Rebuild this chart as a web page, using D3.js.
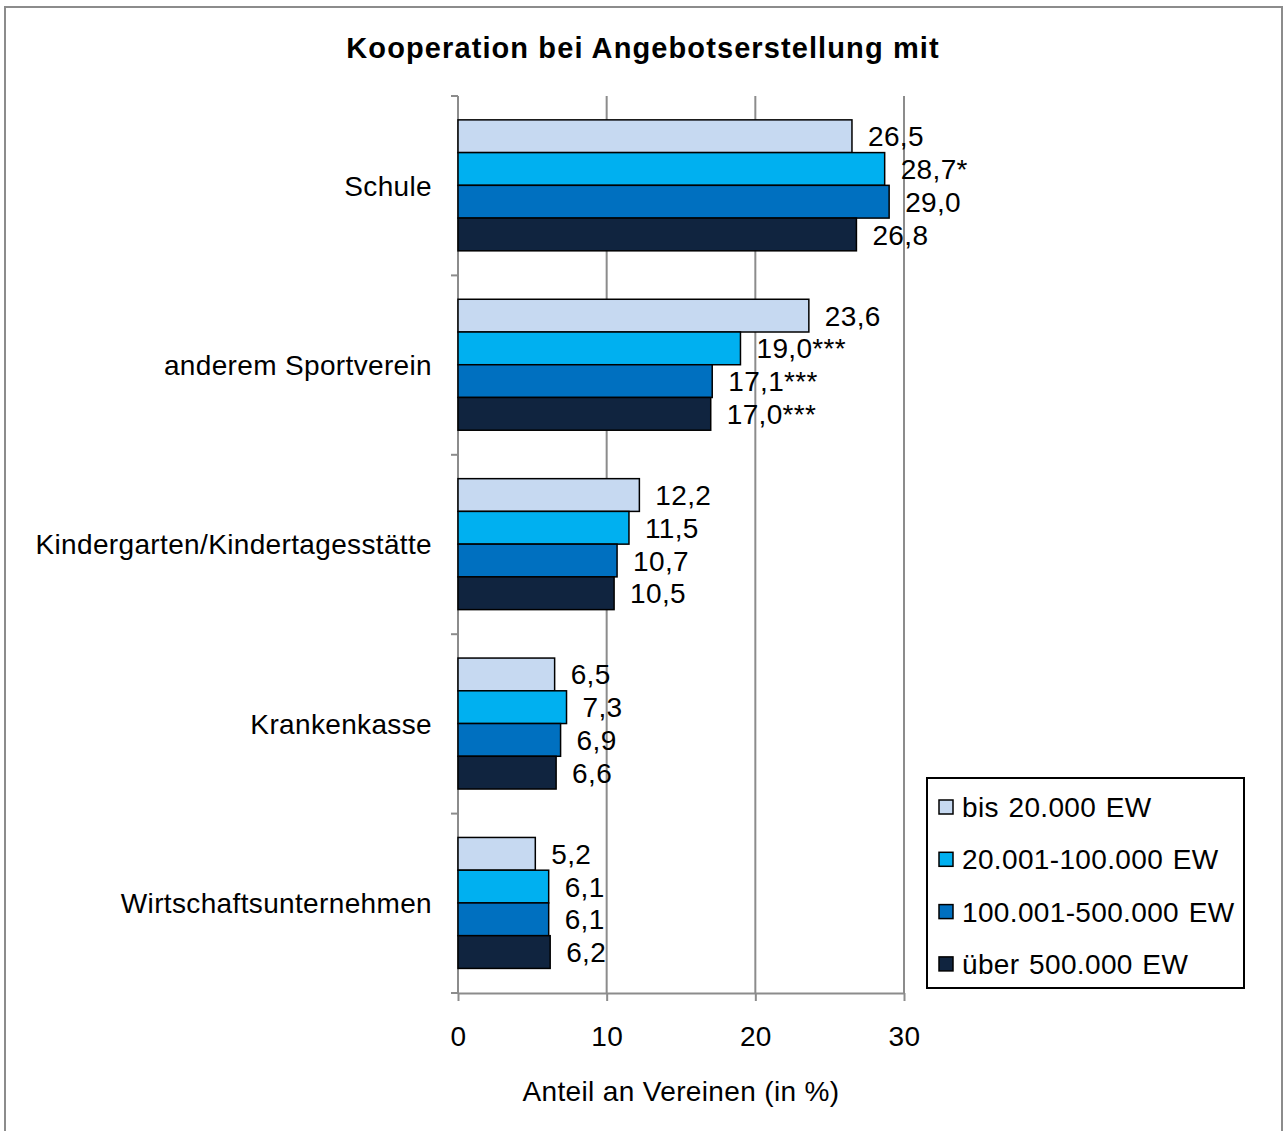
<!DOCTYPE html>
<html>
<head>
<meta charset="utf-8">
<script src="https://cdn.jsdelivr.net/npm/d3@7/dist/d3.min.js"></script>
<style>
  body { margin: 0; background: #fff; }
  svg text { font-family: "Liberation Sans", Arial, sans-serif; fill: #000; letter-spacing: 0.35px; }
</style>
</head>
<body>
<div class="chart"></div>
<script>
const categories = ["Schule", "anderem Sportverein", "Kindergarten/Kindertagesstätte", "Krankenkasse", "Wirtschaftsunternehmen"];
const seriesNames = ["bis 20.000 EW", "20.001-100.000 EW", "100.001-500.000 EW", "über 500.000 EW"];
const seriesColors = ["#C6D9F1", "#00B0F0", "#0070C0", "#10243F"];
const bis20k = [26.5, 23.6, 12.2, 6.5, 5.2];
const bis100k = [28.7, 19.0, 11.5, 7.3, 6.1];
const bis500k = [29.0, 17.1, 10.7, 6.9, 6.1];
const ueber500k = [26.8, 17.0, 10.5, 6.6, 6.2];
// significance markers as printed next to the values
const stars = [
  ["", "", "", "", ""],
  ["*", "***", "", "", ""],
  ["", "***", "", "", ""],
  ["", "***", "", "", ""]
];
const xTicks = [0, 10, 20, 30];

const seriesValues = [bis20k, bis100k, bis500k, ueber500k];

const W = 1284, H = 1131;
const plot = {left: 458, right: 904, top: 96, bottom: 993};
const fs = "28px";

const svg = d3.select(".chart").append("svg")
    .attr("width", W)
    .attr("height", H);

// outer frame
svg.append("rect")
    .attr("x", 5).attr("y", 7)
    .attr("width", 1277).attr("height", 1140)
    .attr("fill", "white")
    .attr("stroke", "#8c8c8c")
    .attr("stroke-width", 2);

svg.append("text")
    .attr("x", 643).attr("y", 58)
    .attr("text-anchor", "middle")
    .style("font-size", "29px")
    .style("font-weight", "bold")
    .style("letter-spacing", "1.1px")
    .text("Kooperation bei Angebotserstellung mit");

const x = d3.scaleLinear().domain([0, 30]).range([plot.left, plot.right]);
const y0 = d3.scaleBand().domain(categories).range([plot.top, plot.bottom]).padding(0);
const y1 = d3.scaleBand().domain(d3.range(4))
    .range([y0.bandwidth() * 0.133, y0.bandwidth() * 0.863]).padding(0);

// gridlines
svg.append("g")
    .selectAll("line")
    .data(xTicks.slice(1))
    .join("line")
    .attr("x1", d => x(d)).attr("x2", d => x(d))
    .attr("y1", plot.top).attr("y2", plot.bottom)
    .attr("stroke", "#8c8c8c")
    .attr("stroke-width", 2);

// x axis
const xAxis = svg.append("g")
    .attr("transform", `translate(0,${plot.bottom})`)
    .call(d3.axisBottom(x).tickValues(xTicks).tickSize(8).tickSizeOuter(0).tickPadding(25));
xAxis.select(".domain").attr("stroke", "#8c8c8c").attr("stroke-width", 2);
xAxis.selectAll(".tick line").attr("stroke", "#8c8c8c").attr("stroke-width", 2);
xAxis.selectAll(".tick text").style("font-size", fs)
    .style("font-family", "Liberation Sans, Arial, sans-serif").attr("fill", "#000");

// y axis with ticks between categories
const yAxisG = svg.append("g");
yAxisG.append("line")
    .attr("x1", plot.left).attr("x2", plot.left)
    .attr("y1", plot.top).attr("y2", plot.bottom)
    .attr("stroke", "#8c8c8c").attr("stroke-width", 2);
yAxisG.selectAll(".ytick")
    .data(categories.concat(["end"]))
    .join("line")
    .attr("class", "ytick")
    .attr("x1", plot.left - 7).attr("x2", plot.left)
    .attr("y1", (d, i) => plot.top + i * y0.bandwidth())
    .attr("y2", (d, i) => plot.top + i * y0.bandwidth())
    .attr("stroke", "#8c8c8c").attr("stroke-width", 2);

yAxisG.selectAll(".cat")
    .data(categories)
    .join("text")
    .attr("class", "cat")
    .attr("x", plot.left - 26)
    .attr("y", d => y0(d) + y0.bandwidth() / 2)
    .attr("dy", "0.35em")
    .attr("text-anchor", "end")
    .style("font-size", fs)
    .text(d => d);

// bars
const groups = svg.selectAll(".grp")
    .data(categories)
    .join("g")
    .attr("class", "grp")
    .attr("transform", d => `translate(0,${y0(d)})`);

groups.selectAll("rect")
    .data((d, ci) => seriesValues.map((s, si) => ({si, ci, v: s[ci]})))
    .join("rect")
    .attr("x", x(0))
    .attr("y", d => y1(d.si))
    .attr("width", d => x(d.v) - x(0))
    .attr("height", y1.bandwidth())
    .attr("fill", d => seriesColors[d.si])
    .attr("stroke", "#000")
    .attr("stroke-width", 1.5);

groups.selectAll(".val")
    .data((d, ci) => seriesValues.map((s, si) => ({si, ci, v: s[ci]})))
    .join("text")
    .attr("class", "val")
    .attr("x", d => x(d.v) + 16)
    .attr("y", d => y1(d.si) + y1.bandwidth() / 2)
    .attr("dy", "0.36em")
    .style("font-size", fs)
    .text(d => d3.format(".1f")(d.v).replace(".", ",") + stars[d.si][d.ci]);

// axis title
svg.append("text")
    .attr("x", (plot.left + plot.right) / 2)
    .attr("y", 1101)
    .attr("text-anchor", "middle")
    .style("font-size", fs)
    .text("Anteil an Vereinen (in %)");

// legend
const legend = svg.append("g").attr("transform", "translate(927,778)");
legend.append("rect")
    .attr("width", 317).attr("height", 210)
    .attr("fill", "white")
    .attr("stroke", "#000").attr("stroke-width", 2);
const items = legend.selectAll(".key")
    .data(seriesNames)
    .join("g")
    .attr("class", "key")
    .attr("transform", (d, i) => `translate(0,${29 + i * 52.3})`);
items.append("rect")
    .attr("x", 12).attr("y", -7)
    .attr("width", 14).attr("height", 14)
    .attr("fill", (d, i) => seriesColors[i])
    .attr("stroke", "#000").attr("stroke-width", 1.5);
items.append("text")
    .attr("x", 35).attr("y", 0)
    .attr("dy", "0.36em")
    .style("font-size", fs)
    .style("word-spacing", "1.5px")
    .text(d => d);
</script>
</body>
</html>
